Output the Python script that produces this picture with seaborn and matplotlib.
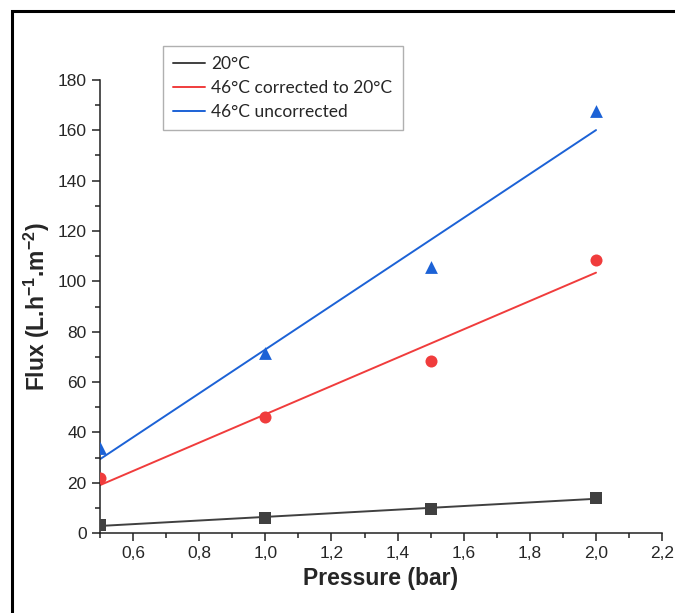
import numpy as np
import pandas as pd
import matplotlib
matplotlib.use("Agg")
import matplotlib.pyplot as plt
import seaborn as sns
from matplotlib.patches import Rectangle
from matplotlib.ticker import MultipleLocator, FuncFormatter

# data
pressure = [0.5, 1.0, 1.5, 2.0]
flux_20 = [3.2, 6.0, 9.6, 14.0]
flux_46_corr = [22.0, 46.1, 68.4, 108.4]
flux_46_raw = [33.8, 71.5, 105.8, 167.7]

series_names = ["20°C", "46°C corrected to 20°C", "46°C uncorrected"]
series_colors = ["#404040", "#f03c3c", "#1c62d6"]
series_markers = ["s", "o", "^"]
marker_sizes = [70, 75, 85]

sns.set_style("ticks")
plt.rcParams['font.family'] = ['Liberation Sans', 'DejaVu Sans']
plt.rcParams['mathtext.fontset'] = 'custom'
plt.rcParams['mathtext.rm'] = 'Liberation Sans'
plt.rcParams['mathtext.bf'] = 'Liberation Sans:bold'

df = pd.DataFrame({
    'pressure': pressure * 3,
    'flux': flux_20 + flux_46_corr + flux_46_raw,
    'series': np.repeat(series_names, len(pressure)),
})

fig = plt.figure(figsize=(6.75, 6.13), dpi=100)
ax = fig.add_axes([0.148, 0.1305, 0.833, 0.739])

# points + linear fit for each temperature
for name, col, mk, ms in zip(series_names, series_colors, series_markers, marker_sizes):
    sub = df[df['series'] == name]
    sns.regplot(data=sub, x='pressure', y='flux', ax=ax, ci=None, color=col,
                marker=mk, truncate=True,
                scatter_kws={'s': ms, 'alpha': 1, 'linewidths': 0, 'zorder': 3},
                line_kws={'lw': 1.4, 'label': name})

ax.set_xlim(0.5, 2.2)
ax.set_ylim(0, 180)
ax.xaxis.set_major_locator(MultipleLocator(0.2))
ax.xaxis.set_minor_locator(MultipleLocator(0.1))
ax.yaxis.set_major_locator(MultipleLocator(20))
ax.yaxis.set_minor_locator(MultipleLocator(10))
ax.xaxis.set_major_formatter(FuncFormatter(lambda v, p: f"{v:.1f}".replace('.', ',')))
ax.yaxis.set_major_formatter(FuncFormatter(lambda v, p: f"{v:.0f}"))
ax.tick_params(which='major', direction='out', length=6, width=1.1, labelsize=12.5, color='#222222')
ax.tick_params(which='minor', direction='out', length=3.5, width=1.1, color='#222222')
for s in ['top', 'right']:
    ax.spines[s].set_visible(False)
for s in ['left', 'bottom']:
    ax.spines[s].set_linewidth(1.1)
    ax.spines[s].set_color('#222222')

ax.set_xlabel("Pressure (bar)", fontsize=16.5, fontweight='bold')
ax.set_ylabel(r"Flux (L.h$^{\mathbf{-1}}$.m$^{\mathbf{-2}}$)", fontsize=16.5, fontweight='bold')
ax.xaxis.set_label_coords(0.5, -0.075)
ax.yaxis.set_label_coords(-0.085, 0.5)

handles, labels = ax.get_legend_handles_labels()
leg = ax.legend(handles, labels, loc='upper left', bbox_to_anchor=(0.112, 1.075),
                frameon=True, fancybox=False, edgecolor='#b0b0b0', framealpha=1,
                handlelength=1.8, handletextpad=0.4,
                labelspacing=0.45, borderpad=0.6, borderaxespad=0,
                prop={'family': ['Lato', 'DejaVu Sans'], 'size': 12.5})
leg.get_frame().set_linewidth(1.0)

# frame round the whole figure
fig.patches.append(Rectangle((12 / 675, -0.02), 1.1, 1 - 11 / 613 + 0.02,
                             transform=fig.transFigure, fill=False,
                             edgecolor='black', linewidth=2.2))

fig.savefig("out.png", dpi=100)
